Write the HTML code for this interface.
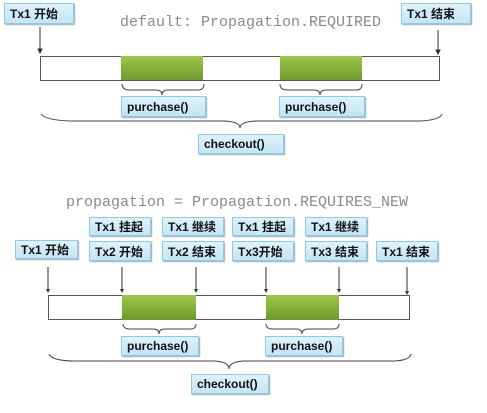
<!DOCTYPE html>
<html><head><meta charset="utf-8"><style>
body{margin:0;width:487px;height:413px;background:#fff;position:relative;overflow:hidden;font-family:"Liberation Sans","Noto Sans CJK SC",sans-serif}
.b{position:absolute;box-sizing:border-box;background:linear-gradient(#dff2fb,#c3e5f5);border:1px solid #8ccbe6;box-shadow:1px 1px 1px #9ab;font-weight:bold;font-size:12px;color:#111;padding-left:5px;display:flex;align-items:center}
.t{position:absolute;font-family:"Liberation Mono",monospace;color:#8a8a8a;font-size:15px;white-space:nowrap}
svg{position:absolute;left:0;top:0}
</style></head><body>
<svg width="487" height="413">
<defs><linearGradient id="g" x1="0" y1="0" x2="0" y2="1"><stop offset="0" stop-color="#9dc64a"/><stop offset="1" stop-color="#6f9a2c"/></linearGradient></defs>
<g stroke="#333" stroke-width="1">
<line x1="40" y1="27" x2="40" y2="51"/><path d="M38,49 L40,53 L42,49Z" fill="#333"/>
<line x1="438" y1="30" x2="438" y2="52"/><path d="M436,50 L438,54 L440,50Z" fill="#333"/>
</g>
<rect x="40.5" y="56.5" width="399" height="24" fill="#fff" stroke="#555"/>
<rect x="121" y="56" width="82" height="24" fill="url(#g)"/>
<rect x="280" y="56" width="82" height="24" fill="url(#g)"/>
<g fill="none" stroke="#444" stroke-width="1">
<path d="M122,84 Q122,90 130,90 L156,90 Q162,90 162,95 Q162,90 168,90 L198,90 Q204,90 204,84"/>
<path d="M280,84 Q280,90 288,90 L314,90 Q320,90 320,95 Q320,90 326,90 L356,90 Q362,90 362,84"/>
<path d="M41,114 Q45,120 70,121 L225,121 Q240,122 240,128 Q240,122 255,121 L420,121 Q440,120 442,114"/>
</g>
<g stroke="#333" stroke-width="1">
<line x1="48" y1="267" x2="48" y2="290"/><line x1="122" y1="267" x2="122" y2="290"/><line x1="196" y1="267" x2="196" y2="290"/>
<line x1="266" y1="267" x2="266" y2="290"/><line x1="339" y1="267" x2="339" y2="290"/><line x1="407" y1="267" x2="407" y2="292"/>
</g>
<g fill="#333">
<path d="M46,289 L48,293 L50,289Z"/><path d="M120,289 L122,293 L124,289Z"/><path d="M194,289 L196,293 L198,289Z"/>
<path d="M264,289 L266,293 L268,289Z"/><path d="M337,289 L339,293 L341,289Z"/><path d="M405,291 L407,295 L409,291Z"/>
</g>
<rect x="48.5" y="295.5" width="361" height="24" fill="#fff" stroke="#555"/>
<rect x="122" y="295" width="74" height="25" fill="url(#g)"/>
<rect x="266" y="295" width="73" height="25" fill="url(#g)"/>
<g fill="none" stroke="#444" stroke-width="1">
<path d="M123,324 Q123,329 130,329 L153,329 Q159,329 159,334 Q159,329 165,329 L190,329 Q196,329 196,324"/>
<path d="M266,324 Q266,329 273,329 L296,329 Q302,329 302,334 Q302,329 308,329 L333,329 Q339,329 339,324"/>
<path d="M49,354 Q52,361 75,361 L215,361 Q229,362 229,369 Q229,362 243,361 L395,361 Q410,360 411,354"/>
</g>
</svg>
<div class="t" style="left:120px;top:14px">default: Propagation.REQUIRED</div>
<div class="t" style="left:66px;top:194px">propagation = Propagation.REQUIRES_NEW</div>
<div class="b" style="left:4px;top:3px;width:70px;height:21px">Tx1 开始</div>
<div class="b" style="left:401px;top:3px;width:70px;height:21px">Tx1 结束</div>
<div class="b" style="left:121px;top:96px;width:85px;height:21px">purchase()</div>
<div class="b" style="left:279px;top:96px;width:86px;height:21px">purchase()</div>
<div class="b" style="left:198px;top:134px;width:86px;height:20px">checkout()</div>
<div class="b" style="left:89px;top:217px;width:62px;height:19px">Tx1 挂起</div>
<div class="b" style="left:162px;top:217px;width:62px;height:19px">Tx1 继续</div>
<div class="b" style="left:232px;top:217px;width:62px;height:19px">Tx1 挂起</div>
<div class="b" style="left:305px;top:217px;width:62px;height:19px">Tx1 继续</div>
<div class="b" style="left:15px;top:240px;width:63px;height:19px">Tx1 开始</div>
<div class="b" style="left:89px;top:241px;width:62px;height:20px">Tx2 开始</div>
<div class="b" style="left:162px;top:241px;width:62px;height:20px">Tx2 结束</div>
<div class="b" style="left:232px;top:241px;width:62px;height:20px">Tx3开始</div>
<div class="b" style="left:305px;top:241px;width:62px;height:20px">Tx3 结束</div>
<div class="b" style="left:376px;top:241px;width:62px;height:20px">Tx1 结束</div>
<div class="b" style="left:121px;top:336px;width:78px;height:20px">purchase()</div>
<div class="b" style="left:265px;top:336px;width:78px;height:20px">purchase()</div>
<div class="b" style="left:191px;top:374px;width:78px;height:20px">checkout()</div>
</body></html>
